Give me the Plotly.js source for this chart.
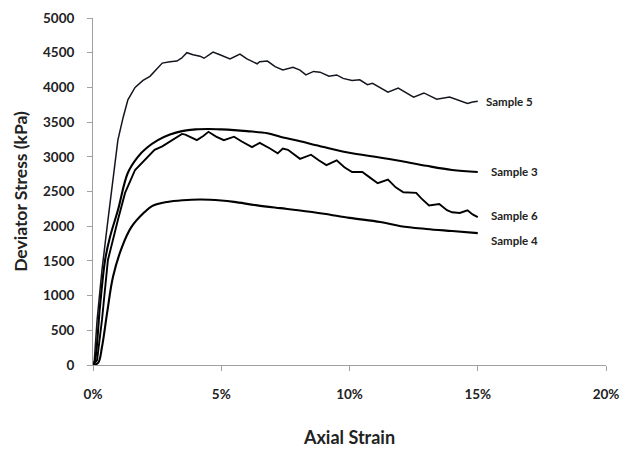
<!DOCTYPE html>
<html>
<head>
<meta charset="utf-8">
<script src="https://cdn.plot.ly/plotly-3.0.1.min.js"></script>
<style>html,body{margin:0;padding:0;background:#fff;}#chart{width:621px;height:449px;}</style>
</head>
<body>
<div id="chart"></div>
<script>
// Axial strain (%) and deviator stress (kPa)
const s5_x = [0,0.05,0.16,0.35,0.55,0.74,0.97,1.17,1.36,1.64,1.95,2.22,2.5,2.7,3.0,3.27,3.45,3.66,3.9,4.17,4.33,4.68,4.95,5.34,5.73,6.0,6.4,6.5,6.8,7.1,7.4,7.8,8.07,8.3,8.6,8.85,9.2,9.5,9.75,10.1,10.4,10.7,10.9,11.2,11.5,11.9,12.2,12.5,12.9,13.1,13.4,13.9,14.2,14.6,14.8,15.0];
const s5_y = [0,60,650,1370,1990,2560,3240,3560,3820,4000,4100,4160,4280,4350,4370,4380,4420,4500,4470,4450,4420,4510,4470,4410,4480,4410,4340,4370,4380,4300,4250,4290,4250,4180,4230,4220,4160,4180,4130,4100,4110,4040,4060,4000,3930,3990,3920,3860,3920,3880,3830,3860,3820,3770,3790,3800];

const s3_x = [0,0.08,0.27,0.47,0.66,0.97,1.36,1.75,2.1,2.53,3.0,3.47,4.0,4.5,5.0,5.5,6.0,6.8,7.3,8.0,9.0,10.1,11.0,12.0,13.0,14.0,15.0];
const s3_y = [0,70,840,1510,1840,2230,2770,3000,3130,3240,3320,3370,3395,3400,3395,3385,3370,3340,3290,3230,3140,3050,3000,2940,2870,2810,2780];

const s6_x = [0,0.16,0.35,0.58,0.97,1.25,1.64,2.0,2.4,2.7,3.1,3.47,3.6,4.05,4.3,4.5,4.8,5.1,5.5,5.8,6.2,6.5,6.9,7.2,7.4,7.6,8.07,8.5,8.8,9.1,9.5,9.8,10.1,10.5,10.8,11.1,11.5,11.8,12.1,12.6,12.8,13.1,13.5,13.8,14.0,14.3,14.6,14.8,15.0];
const s6_y = [0,70,650,1510,2090,2480,2810,2950,3100,3150,3240,3330,3320,3240,3300,3360,3290,3240,3290,3220,3140,3200,3120,3050,3120,3100,2970,3030,2950,2880,2950,2850,2780,2780,2700,2620,2670,2560,2490,2480,2400,2300,2320,2230,2200,2190,2230,2170,2130];

const s4_x = [0,0.2,0.35,0.55,0.78,1.13,1.5,2.0,2.3,2.9,3.5,4.2,5.0,5.5,6.4,7.3,8.0,9.0,10.0,11.2,12.0,13.0,14.0,15.0];
const s4_y = [0,30,260,750,1270,1700,1990,2200,2290,2350,2375,2385,2370,2350,2300,2260,2230,2180,2120,2060,2000,1960,1930,1900];

const labels = ["Sample 5","Sample 3","Sample 6","Sample 4"];
const label_x = [15.25,15.45,15.45,15.45];
const label_y = [3800,2795,2160,1800];

const xTicks = [0,5,10,15,20];
const yTicks = [0,500,1000,1500,2000,2500,3000,3500,4000,4500,5000];

const font = "Lato, 'Open Sans', Arial, sans-serif";

const traces = [
  {x:s5_x, y:s5_y, mode:'lines', line:{color:'#14161f', width:1.5}},
  {x:s3_x, y:s3_y, mode:'lines', line:{color:'#000', width:2.1, shape:'spline'}},
  {x:s6_x, y:s6_y, mode:'lines', line:{color:'#000', width:1.9}},
  {x:s4_x, y:s4_y, mode:'lines', line:{color:'#000', width:2.1, shape:'spline'}}
];

const annotations = labels.map((t,i)=>({
  x:label_x[i], y:label_y[i], xref:'x', yref:'y', text:'<b>'+t+'</b>',
  showarrow:false, xanchor:'left', yanchor:'middle',
  font:{family:font, size:11.5, color:'#222'}
}));

const layout = {
  width:621, height:449,
  margin:{l:93, r:15, t:18, b:84},
  paper_bgcolor:'#fff', plot_bgcolor:'#fff',
  showlegend:false,
  font:{family:font, color:'#222'},
  xaxis:{
    range:[0,20], tickvals:xTicks, ticktext:xTicks.map(v=>v+'%'),
    showgrid:false, zeroline:false, showline:true, linecolor:'#a0a0a0', linewidth:1,
    ticks:'outside', ticklen:5, tickcolor:'#a0a0a0',
    ticklabelstandoff:12,
    tickfont:{family:font, size:13.5, color:'#222', weight:'bold'},
    title:{text:'<b>Axial Strain</b>', font:{family:font, size:18, color:'#222'}, standoff:30}
  },
  yaxis:{
    range:[0,5000], tickvals:yTicks,
    showgrid:false, zeroline:false, showline:true, linecolor:'#a0a0a0', linewidth:1,
    ticks:'outside', ticklen:5, tickcolor:'#a0a0a0',
    ticklabelstandoff:10,
    tickfont:{family:font, size:13.5, color:'#222', weight:'bold'},
    title:{text:'<b>Deviator Stress (kPa)</b>', font:{family:font, size:17.5, color:'#222'}, standoff:10}
  },
  annotations:annotations
};

Plotly.newPlot('chart', traces, layout, {displayModeBar:false, staticPlot:true});
</script>
</body>
</html>
